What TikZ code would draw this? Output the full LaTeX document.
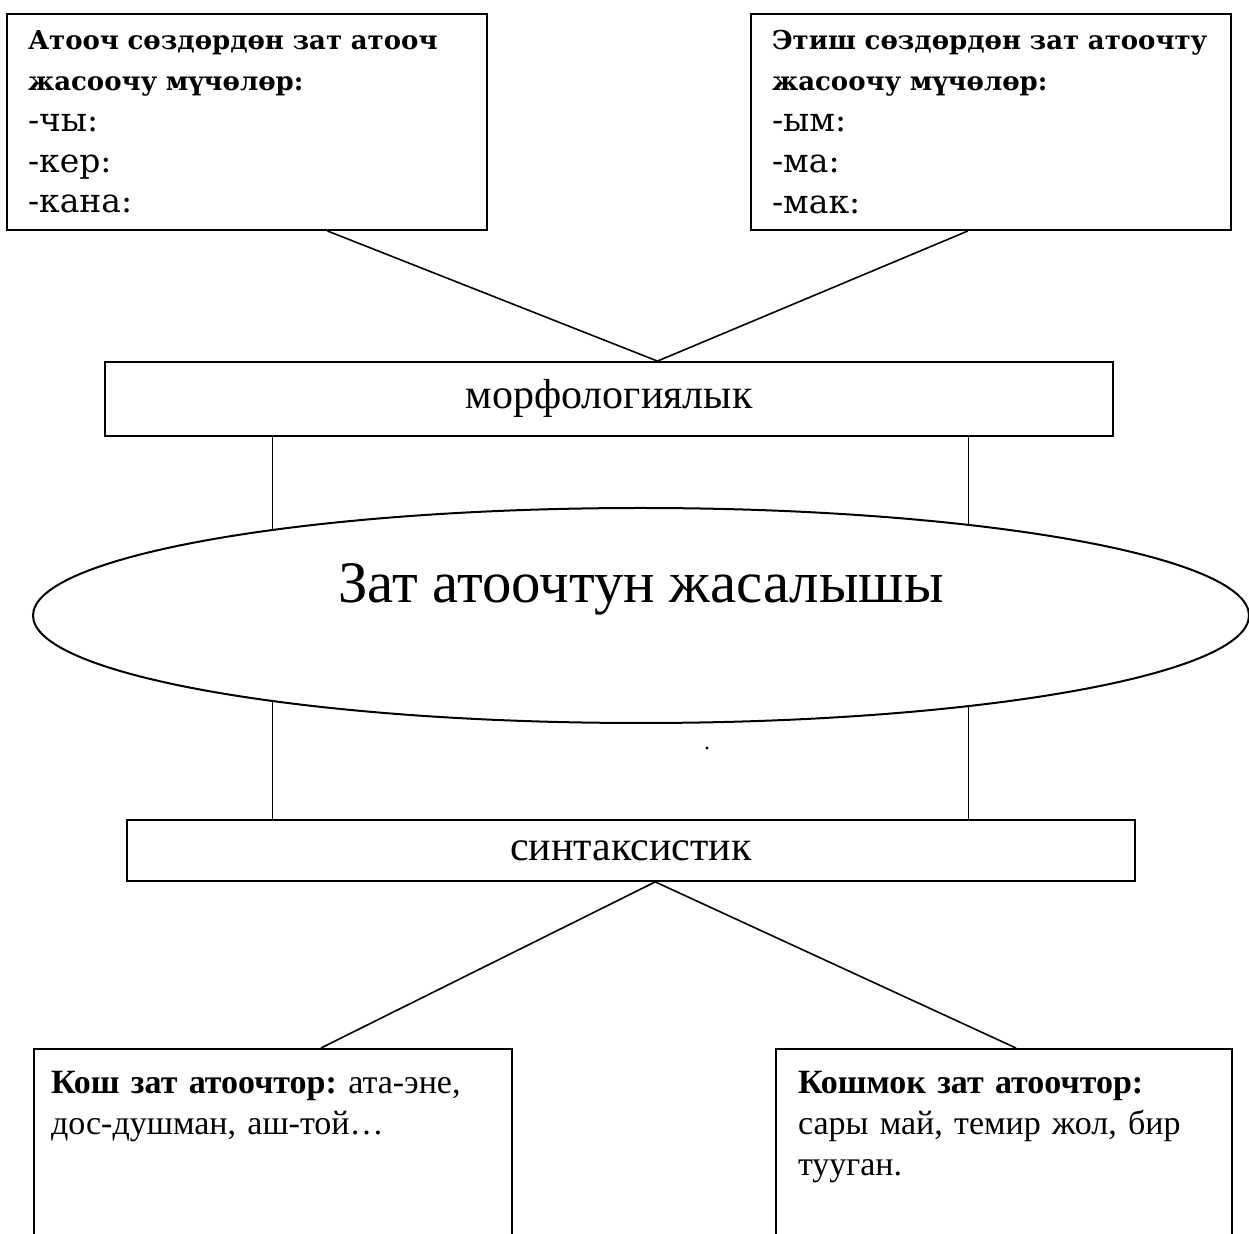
\documentclass[tikz,border=0pt]{standalone}
\usepackage{fontspec}
\setmainfont{Liberation Serif}
\newfontfamily\schoolfont{DejaVu Serif}
\usetikzlibrary{shapes.geometric,calc,backgrounds}
\frenchspacing

\newcommand\sfx[1]{{\fontsize{16.5}{20.4}\selectfont #1}}

\tikzset{
	topbox/.style={draw, line width=1pt, rectangle, minimum width=240pt, minimum height=108pt,
		text width=219pt, inner xsep=10.5pt, inner ysep=0pt, align=left,
		font=\schoolfont\fontsize{13}{20.4}\selectfont},
	levelbox/.style={draw, line width=0.9pt, minimum width=504pt, inner sep=0pt,
		font=\fontsize{21}{25}\selectfont},
	core/.style={draw, ellipse, line width=1pt, fill=white, minimum width=608pt, minimum height=107.5pt,
		inner sep=0pt, text height=20pt, text depth=33pt, font=\fontsize{29.4}{34}\selectfont},
	lowbox/.style={draw, line width=1pt, anchor=north west, align=left, inner ysep=11pt,
		text depth=100pt, font=\fontsize{17}{20.5}\selectfont},
	link/.style={line width=0.8pt},
	stem/.style={line width=0.75pt}
}

\begin{document}
\begin{tikzpicture}[x=0.5pt,y=-0.5pt]
	\path[use as bounding box, clip] (0,0) rectangle (1249,1234);

	\node[topbox] (adj) at (247,122) {\textbf{Атооч сөздөрдөн зат атооч}\\ \textbf{жасоочу мүчөлөр:}\\ \sfx{-чы:}\\ \sfx{-кер:}\\ \sfx{-кана:}};
	\node[topbox] (verb) at (991,122) {\textbf{Этиш сөздөрдөн зат атоочту}\\ \textbf{жасоочу мүчөлөр:}\\ \sfx{-ым:}\\ \sfx{-ма:}\\ \sfx{-мак:}};

	\node[levelbox, minimum height=37pt, text depth=5pt] (morph) at (609,399) {морфологиялык};
	\node[core] (zat) at (641,615.5) {Зат атоочтун жасалышы};
	\node[levelbox, minimum height=30.5pt] (synt) at (631,850.5) {синтаксистик};
	\node[circle, fill, inner sep=0.6pt] (speck) at (707,748) {};

	\node[lowbox, text width=222pt, inner xsep=8.5pt] (kosh) at (33,1048) {\textbf{Кош зат атоочтор:} ата-эне,\\ дос-душман, аш-той…};
	\node[lowbox, text width=206pt, inner xsep=11pt] (koshmok) at (775,1048) {\textbf{Кошмок зат атоочтор:}\\ сары май, темир жол, бир\\ тууган.};

	\coordinate (mtop) at ($(morph.north west)!0.548!(morph.north east)$);
	\coordinate (sbot) at ($(synt.south west)!0.524!(synt.south east)$);
	\coordinate (mleft) at ($(morph.south west)!0.1667!(morph.south east)$);
	\coordinate (mright) at ($(morph.south west)!0.856!(morph.south east)$);

	\draw[link] ($(adj.south west)!0.667!(adj.south east)$) -- (mtop);
	\draw[link] ($(verb.south west)!0.452!(verb.south east)$) -- (mtop);

	\begin{pgfonlayer}{background}
		\draw[stem] (mleft) -- (mleft |- synt.north);
		\draw[stem] (mright) -- (mright |- synt.north);
	\end{pgfonlayer}

	\draw[link] (sbot) -- ($(kosh.north west)!0.6!(kosh.north east)$);
	\draw[link] (sbot) -- ($(koshmok.north west)!0.526!(koshmok.north east)$);
\end{tikzpicture}
\end{document}
